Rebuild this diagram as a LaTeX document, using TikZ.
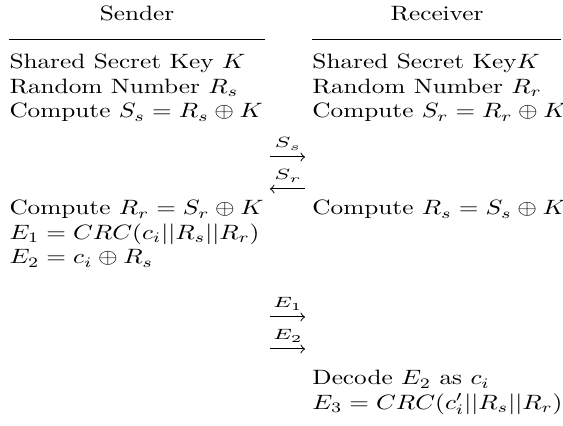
\documentclass[tikz,border=0pt]{standalone}
\usepackage{amsmath}
\newcommand{\sq}[1]{\scalebox{1.01}[0.83]{#1}}
\newcommand{\sqlab}[1]{\scalebox{1.22}[0.85]{$\scriptstyle #1$}}
\begin{document}
\begin{tikzpicture}[x=0.4pt,y=-0.4pt,
  txt/.style={anchor=base west, inner sep=0pt},
  hdr/.style={anchor=base, inner sep=0pt},
  rule/.style={line width=0.45pt},
  msg/.style={-to, line width=0.4pt},
  lbl/.style={anchor=base, inner sep=0pt}]
\useasboundingbox (0,0) rectangle (563,426);
% headers
\node[hdr] (hs) at (137,21) {\sq{Sender}};
\node[hdr] (hr) at (437,21) {\sq{Receiver}};
\coordinate (ls1) at (9,39.5); \coordinate (ls2) at (265,39.5);
\coordinate (lr1) at (312,39.5); \coordinate (lr2) at (561,39.5);
\draw[rule] (ls1) -- (ls2);
\draw[rule] (lr1) -- (lr2);
% sender column
\node[txt] (s1) at (9,69) {\sq{Shared Secret Key $K$}};
\node[txt] (s2) at (9,93.5) {\sq{Random Number $R_s$}};
\node[txt] (s3) at (9,118) {\sq{Compute $S_s = R_s \oplus K$}};
\node[txt] (s4) at (9,215) {\sq{Compute $R_r = S_r \oplus K$}};
\node[txt] (s5) at (9,239.5) {\sq{$E_1 = CRC(c_i||R_s||R_r)$}};
\node[txt] (s6) at (9,264) {\sq{$E_2 = c_i \oplus R_s$}};
% receiver column
\node[txt] (r1) at (312,69) {\sq{Shared Secret Key$K$}};
\node[txt] (r2) at (312,93.5) {\sq{Random Number $R_r$}};
\node[txt] (r3) at (312,118) {\sq{Compute $S_r = R_r \oplus K$}};
\node[txt] (r4) at (312,215) {\sq{Compute $R_s = S_s \oplus K$}};
\node[txt] (r5) at (312,385) {\sq{Decode $E_2$ as $c_i$}};
\node[txt] (r6) at (312,409.5) {\sq{$E_3 = CRC(c_i'||R_s||R_r)$}};
% messages
\coordinate (a1l) at (270,157); \coordinate (a1r) at (305,157);
\coordinate (a2l) at (270,189); \coordinate (a2r) at (305,189);
\coordinate (a3l) at (270,317); \coordinate (a3r) at (305,317);
\coordinate (a4l) at (270,349); \coordinate (a4r) at (305,349);
\draw[msg] (a1l) -- (a1r);
\draw[msg] (a2r) -- (a2l);
\draw[msg] (a3l) -- (a3r);
\draw[msg] (a4l) -- (a4r);
\node[lbl] (m1) at (288,148) {\sqlab{S_s}};
\node[lbl] (m2) at (288,180) {\sqlab{S_r}};
\node[lbl] (m3) at (288,308) {\sqlab{E_1}};
\node[lbl] (m4) at (288,340) {\sqlab{E_2}};
\end{tikzpicture}
\end{document}
